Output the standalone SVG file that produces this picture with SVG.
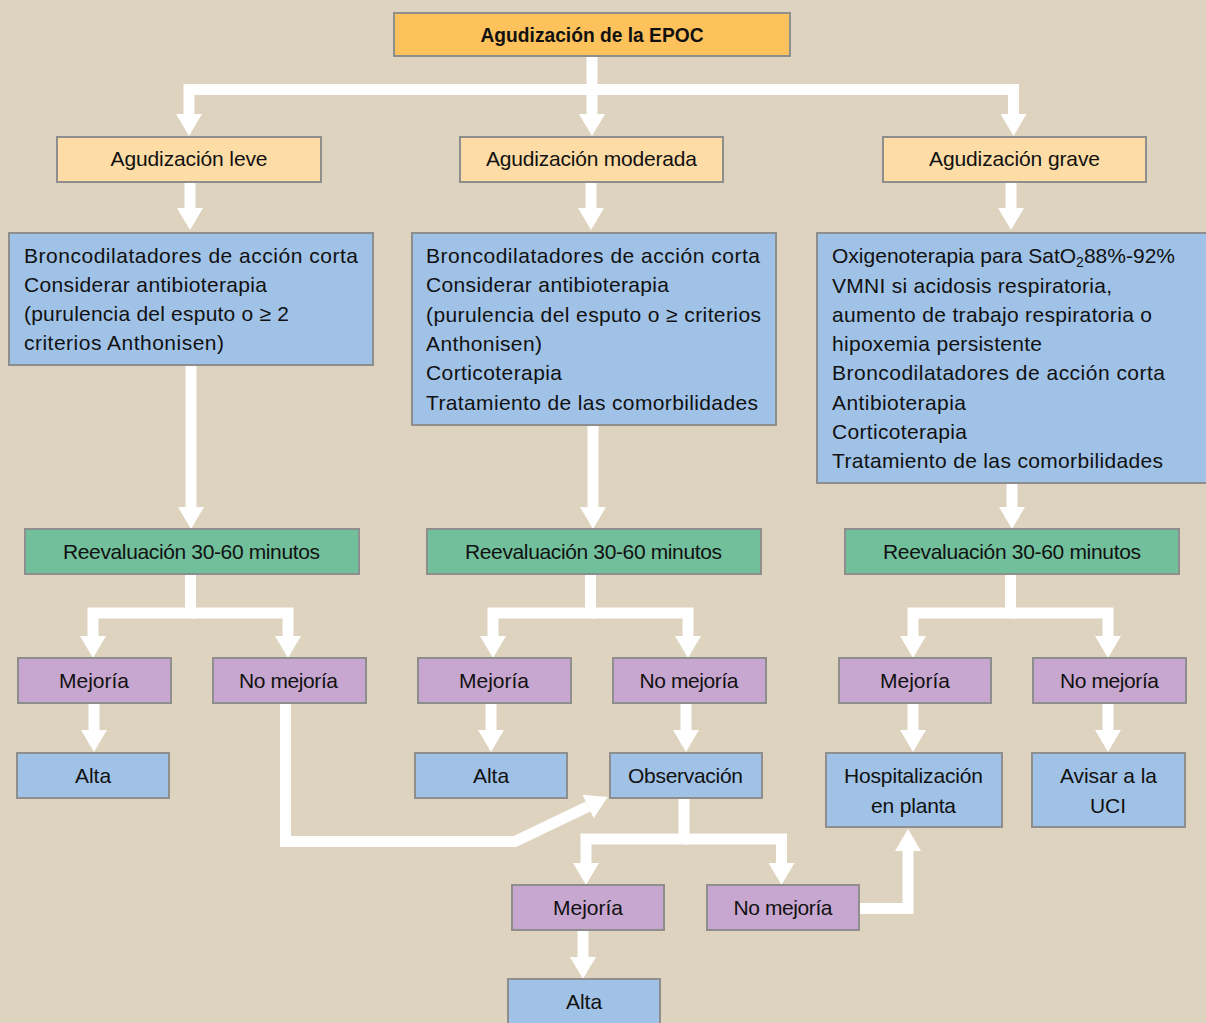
<svg xmlns="http://www.w3.org/2000/svg" width="1206" height="1023" viewBox="0 0 1206 1023">
<style>
.b{stroke:#8e8e8e;stroke-width:2}
.o1{fill:#fdc25c}.o2{fill:#fddca6}.bl{fill:#a0c2e7}.gr{fill:#72bf9c}.pu{fill:#c7a6cf}
text{font-family:"Liberation Sans",Arial,sans-serif;font-size:21px;fill:#111}
.c{text-anchor:middle}
.h{font-weight:bold}
.cn{fill:none;stroke:#fff;stroke-width:11;stroke-linejoin:miter;stroke-linecap:butt;marker-end:url(#ah)}
</style>
<defs>
<marker id="ah" markerUnits="userSpaceOnUse" markerWidth="22" markerHeight="26" viewBox="0 0 22 26" refX="0" refY="13" orient="auto">
<path d="M0,0 L22,13 L0,26 Z" fill="#fff"/>
</marker>
</defs>
<rect width="1206" height="1023" fill="#ddd3be"/>

<g id="connectors">
<path class="cn" d="M592,56 V114"/>
<path class="cn" d="M592,89.5 H189 V114"/>
<path class="cn" d="M592,89.5 H1013.5 V114"/>
<path class="cn" d="M190,182 V208"/>
<path class="cn" d="M591,182 V208"/>
<path class="cn" d="M1011,182 V208"/>
<path class="cn" d="M191,365 V507"/>
<path class="cn" d="M593,425 V507"/>
<path class="cn" d="M1012,483 V507"/>
<path class="cn" d="M190.5,574 V613 H93 V636"/>
<path class="cn" d="M190.5,613 H288 V636"/>
<path class="cn" d="M590.5,574 V613 H493 V636"/>
<path class="cn" d="M590.5,613 H688 V636"/>
<path class="cn" d="M1010.5,574 V613 H913 V636"/>
<path class="cn" d="M1010.5,613 H1108 V636"/>
<path class="cn" d="M94,703 V730"/>
<path class="cn" d="M491,703 V730"/>
<path class="cn" d="M686,703 V730"/>
<path class="cn" d="M913,703 V730"/>
<path class="cn" d="M1108,703 V730"/>
<path class="cn" d="M285.5,703 V841.5 H515 L588,806.5"/>
<path class="cn" d="M684,798 V839 H586 V863"/>
<path class="cn" d="M684,839 H781.5 V863"/>
<path class="cn" d="M583,930 V957"/>
<path class="cn" d="M859,908.5 H908 V851"/>
</g>

<g id="n-epoc"><rect class="b o1" x="394" y="13" width="396" height="43"/><text class="c h" x="592" y="42" textLength="223" lengthAdjust="spacingAndGlyphs">Agudización de la EPOC</text></g>

<g id="n-leve"><rect class="b o2" x="57" y="137" width="264" height="45"/><text class="c" x="189" y="166" textLength="157">Agudización leve</text></g>
<g id="n-moderada"><rect class="b o2" x="460" y="137" width="263" height="45"/><text class="c" x="591.5" y="166" textLength="211">Agudización moderada</text></g>
<g id="n-grave"><rect class="b o2" x="883" y="137" width="263" height="45"/><text class="c" x="1014.5" y="166" textLength="171">Agudización grave</text></g>

<g id="n-trat-leve"><rect class="b bl" x="9" y="233" width="364" height="132"/>
<text x="24" y="263" textLength="334">Broncodilatadores de acción corta</text>
<text x="24" y="292" textLength="243">Considerar antibioterapia</text>
<text x="24" y="321" textLength="265">(purulencia del esputo o ≥ 2</text>
<text x="24" y="350" textLength="200">criterios Anthonisen)</text>
</g>
<g id="n-trat-moderada"><rect class="b bl" x="412" y="233" width="364" height="192"/>
<text x="426" y="263" textLength="334">Broncodilatadores de acción corta</text>
<text x="426" y="292" textLength="243">Considerar antibioterapia</text>
<text x="426" y="322" textLength="335">(purulencia del esputo o ≥ criterios</text>
<text x="426" y="351" textLength="116">Anthonisen)</text>
<text x="426" y="380" textLength="136">Corticoterapia</text>
<text x="426" y="410" textLength="332">Tratamiento de las comorbilidades</text>
</g>
<g id="n-trat-grave"><rect class="b bl" x="817" y="233" width="390" height="250"/>
<text x="832" y="263" textLength="343">Oxigenoterapia para SatO<tspan font-size="14" dy="4">2</tspan><tspan dy="-4">88%-92%</tspan></text>
<text x="832" y="293" textLength="280">VMNI si acidosis respiratoria,</text>
<text x="832" y="322" textLength="320">aumento de trabajo respiratoria o</text>
<text x="832" y="351" textLength="210">hipoxemia persistente</text>
<text x="832" y="380" textLength="333">Broncodilatadores de acción corta</text>
<text x="832" y="410" textLength="134">Antibioterapia</text>
<text x="832" y="439" textLength="135">Corticoterapia</text>
<text x="832" y="468" textLength="331">Tratamiento de las comorbilidades</text>
</g>

<g id="n-reev-leve"><rect class="b gr" x="25" y="529" width="334" height="45"/><text class="c" x="191.5" y="559" textLength="257">Reevaluación 30-60 minutos</text></g>
<g id="n-reev-moderada"><rect class="b gr" x="427" y="529" width="334" height="45"/><text class="c" x="593.5" y="559" textLength="257">Reevaluación 30-60 minutos</text></g>
<g id="n-reev-grave"><rect class="b gr" x="845" y="529" width="334" height="45"/><text class="c" x="1012" y="559" textLength="258">Reevaluación 30-60 minutos</text></g>

<g id="n-mej-leve"><rect class="b pu" x="18" y="658" width="153" height="45"/><text class="c" x="94" y="688" textLength="70">Mejoría</text></g>
<g id="n-nomej-leve"><rect class="b pu" x="213" y="658" width="153" height="45"/><text class="c" x="288.5" y="688" textLength="99">No mejoría</text></g>
<g id="n-mej-moderada"><rect class="b pu" x="418" y="658" width="153" height="45"/><text class="c" x="494" y="688" textLength="70">Mejoría</text></g>
<g id="n-nomej-moderada"><rect class="b pu" x="613" y="658" width="153" height="45"/><text class="c" x="689" y="688" textLength="99">No mejoría</text></g>
<g id="n-mej-grave"><rect class="b pu" x="839" y="658" width="152" height="45"/><text class="c" x="915" y="688" textLength="70">Mejoría</text></g>
<g id="n-nomej-grave"><rect class="b pu" x="1033" y="658" width="153" height="45"/><text class="c" x="1109.5" y="688" textLength="99">No mejoría</text></g>

<g id="n-alta-leve"><rect class="b bl" x="17" y="753" width="152" height="45"/><text class="c" x="93" y="783">Alta</text></g>
<g id="n-alta-moderada"><rect class="b bl" x="415" y="753" width="152" height="45"/><text class="c" x="491" y="783">Alta</text></g>
<g id="n-observacion"><rect class="b bl" x="610" y="753" width="152" height="45"/><text class="c" x="685.5" y="783" textLength="115">Observación</text></g>
<g id="n-hospitalizacion"><rect class="b bl" x="826" y="753" width="176" height="74"/><text class="c" x="913.5" y="783" textLength="139">Hospitalización</text><text class="c" x="913.5" y="813" textLength="85">en planta</text></g>
<g id="n-uci"><rect class="b bl" x="1032" y="753" width="153" height="74"/><text class="c" x="1108.5" y="783" textLength="97">Avisar a la</text><text class="c" x="1108" y="813">UCI</text></g>

<g id="n-mej-obs"><rect class="b pu" x="512" y="885" width="152" height="45"/><text class="c" x="588" y="915" textLength="70">Mejoría</text></g>
<g id="n-nomej-obs"><rect class="b pu" x="707" y="885" width="152" height="45"/><text class="c" x="783" y="915" textLength="99">No mejoría</text></g>
<g id="n-alta-obs"><rect class="b bl" x="508" y="979" width="152" height="50"/><text class="c" x="584" y="1009">Alta</text></g>
</svg>
